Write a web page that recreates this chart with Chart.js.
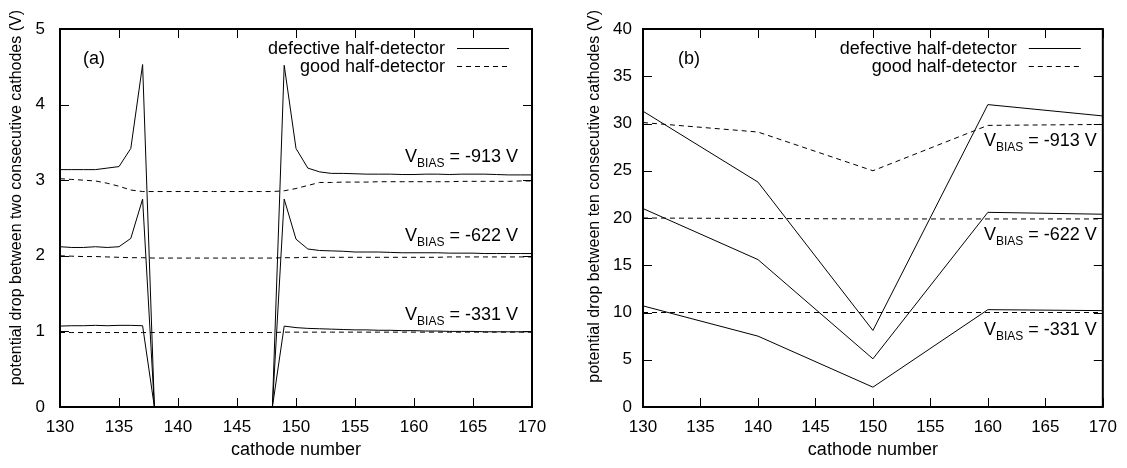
<!DOCTYPE html>
<html><head><meta charset="utf-8">
<script src="https://cdn.jsdelivr.net/npm/chart.js@4/dist/chart.umd.min.js"></script>
<style>
html,body{margin:0;padding:0;background:#fff;}
#wrap{position:relative;width:1127px;height:468px;overflow:hidden;background:#fff;}
canvas{position:absolute;top:0;}
#c1{left:0;}
#c2{left:560px;}
</style></head><body>
<div id="wrap"><canvas id="c1" width="560" height="468"></canvas><canvas id="c2" width="567" height="468"></canvas></div>
<script>
// ---- panel (a): potential drop between two consecutive cathodes ----
const cathodes = [130,131,132,133,134,135,136,137,138,139,140,141,142,143,144,145,146,147,148,149,150,
                  151,152,153,154,155,156,157,158,159,160,161,162,163,164,165,166,167,168,169,170];
const defective913 = [3.14,3.14,3.14,3.14,3.16,3.18,3.42,4.53,0,0,0,0,0,0,0,0,0,0,0,4.52,3.42,
                      3.16,3.11,3.09,3.09,3.085,3.08,3.08,3.08,3.075,3.075,3.08,3.08,3.075,3.08,3.08,3.08,3.075,3.07,3.07,3.07];
const defective622 = [2.12,2.11,2.11,2.12,2.11,2.12,2.23,2.75,0,0,0,0,0,0,0,0,0,0,0,2.75,2.22,
                      2.09,2.07,2.065,2.06,2.05,2.05,2.05,2.045,2.04,2.04,2.04,2.04,2.035,2.035,2.035,2.03,2.03,2.03,2.03,2.03];
const defective331 = [1.07,1.075,1.075,1.08,1.075,1.08,1.08,1.075,0,0,0,0,0,0,0,0,0,0,0,1.07,1.05,
                      1.04,1.035,1.03,1.025,1.02,1.02,1.015,1.015,1.01,1.01,1.005,1.005,1.0,1.0,1.0,0.995,0.995,0.995,0.995,0.995];
const good913 = [3.02,3.01,3.0,2.99,2.96,2.92,2.87,2.85,2.85,2.85,2.85,2.85,2.85,2.85,2.85,2.85,2.85,2.85,2.85,2.86,2.89,
                 2.93,2.97,2.97,2.975,2.975,2.975,2.98,2.98,2.98,2.98,2.98,2.98,2.98,2.985,2.985,2.985,2.985,2.985,2.99,2.99];
const good622 = [2.0,1.995,1.99,1.99,1.985,1.98,1.975,1.975,1.97,1.97,1.97,1.97,1.97,1.97,1.97,1.97,1.97,1.97,1.97,1.975,1.975,
                 1.98,1.98,1.98,1.98,1.98,1.98,1.98,1.98,1.98,1.98,1.98,1.98,1.985,1.985,1.985,1.985,1.985,1.985,1.985,1.985];
const good331 = [0.985,0.985,0.985,0.985,0.985,0.985,0.985,0.985,0.985,0.985,0.985,0.985,0.985,0.985,0.985,0.985,0.985,0.985,0.985,0.99,0.99,
                 0.99,0.99,0.99,0.99,0.99,0.99,0.99,0.99,0.99,0.99,0.99,0.99,0.99,0.99,0.99,0.99,0.99,0.99,0.99,0.99];
const yTicksA = [0,1,2,3,4,5];

// ---- panel (b): potential drop between ten consecutive cathodes ----
const cathodesB = [130,140,150,160,170];
const defective913B = [31.3,23.8,8.1,32.0,30.8];
const defective622B = [21.0,15.6,5.1,20.6,20.4];
const defective331B = [10.7,7.5,2.1,10.3,10.2];
const good913B = [30.1,29.1,25.0,29.8,29.9];
const good622B = [20.0,19.95,19.9,19.9,19.9];
const good331B = [10.0,10.0,10.0,10.0,10.0];
const yTicksB = [0,5,10,15,20,25,30,35,40];
const xTicks = [130,135,140,145,150,155,160,165,170];

const biasLabels = ['-913','-622','-331'];
const legendLabels = ['defective half-detector','good half-detector'];

const FAM = '"Liberation Sans", Arial, Helvetica, sans-serif';
Chart.defaults.font.family = FAM;
Chart.defaults.color = '#000';

function series(xs, ys, dashed){
  return {
    data: xs.map((c,i)=>({x:c, y:ys[i]})),
    borderColor:'#000', backgroundColor:'#000', borderWidth:1,
    borderDash: dashed ? [5,4] : [],
    pointRadius:0, tension:0, fill:false
  };
}

const framePlugin = {
  id:'frame',
  afterDatasetsDraw(chart){
    const {ctx, chartArea:a, scales:{x,y}} = chart;
    ctx.save();
    ctx.strokeStyle='#000'; ctx.lineWidth=1; ctx.setLineDash([]);
    ctx.beginPath();
    x.ticks.forEach(t=>{
      const px = Math.round(x.getPixelForValue(t.value))+0.5;
      ctx.moveTo(px,a.bottom); ctx.lineTo(px,a.bottom-9);
      ctx.moveTo(px,a.top); ctx.lineTo(px,a.top+9);
    });
    y.ticks.forEach(t=>{
      const py = Math.round(y.getPixelForValue(t.value))+0.5;
      ctx.moveTo(a.left,py); ctx.lineTo(a.left+9,py);
      ctx.moveTo(a.right,py); ctx.lineTo(a.right-9,py);
    });
    ctx.stroke();
    ctx.lineWidth=2;
    ctx.strokeRect(a.left,a.top,a.right-a.left,a.bottom-a.top);
    ctx.restore();
  }
};

function drawBias(ctx, rightX, base, val){
  const f1 = '18px '+FAM, f2 = '12px '+FAM;
  const rest = ' = '+val+' V';
  ctx.font=f1; const wV = ctx.measureText('V').width; const wR = ctx.measureText(rest).width;
  ctx.font=f2; const wS = ctx.measureText('BIAS').width;
  const x0 = rightX - (wV+wS+wR);
  ctx.textAlign='left'; ctx.textBaseline='alphabetic'; ctx.fillStyle='#000';
  ctx.font=f1; ctx.fillText('V', x0, base);
  ctx.font=f2; ctx.fillText('BIAS', x0+wV, base+5);
  ctx.font=f1; ctx.fillText(rest, x0+wV+wS, base);
}

function notesPlugin(cfg){
  return {
    id:'notes'+cfg.tag,
    afterDraw(chart){
      const {ctx, chartArea:a, scales:{y}} = chart;
      ctx.save();
      ctx.fillStyle='#000';
      // panel tag
      ctx.font='18px '+FAM; ctx.textAlign='left'; ctx.textBaseline='alphabetic';
      ctx.fillText(cfg.tag, a.left+cfg.tagDx, a.top+35);
      // legend
      legendLabels.forEach((lab,i)=>{
        const ly = a.top + 18.7 + i*18.3;
        ctx.font='18px '+FAM; ctx.textAlign='right'; ctx.textBaseline='alphabetic';
        ctx.fillText(lab, a.right-cfg.legDx, ly+6);
        ctx.beginPath(); ctx.lineWidth=1; ctx.strokeStyle='#000';
        ctx.setLineDash(i===0?[]:[5,4]);
        ctx.moveTo(a.right-cfg.legDx+12, Math.round(ly)+0.5);
        ctx.lineTo(a.right-cfg.legDx+64, Math.round(ly)+0.5);
        ctx.stroke();
      });
      ctx.setLineDash([]);
      // bias labels
      biasLabels.forEach((b,i)=>{
        drawBias(ctx, a.right-cfg.biasDx, y.getPixelForValue(cfg.biasY[i]), b);
      });
      // y title
      ctx.save();
      ctx.translate(cfg.titleX, 10);
      ctx.rotate(-Math.PI/2);
      ctx.font='16px '+FAM; ctx.textAlign='right'; ctx.textBaseline='middle';
      ctx.fillText(cfg.yTitle, 0, 0);
      ctx.restore();
      ctx.restore();
    }
  };
}

function makeChart(id, xs, sets, ymax, ystep, ywidth, padRight, ypad, notes){
  return new Chart(document.getElementById(id), {
    type:'line',
    data:{ datasets: sets },
    options:{
      responsive:false, animation:false, devicePixelRatio:1,
      layout:{ padding:{left:0, right:padRight, top:29, bottom:0} },
      plugins:{ legend:{display:false}, tooltip:{enabled:false} },
      scales:{
        x:{ type:'linear', min:130, max:170,
            afterBuildTicks: s => { s.ticks = xTicks.map(v=>({value:v})); },
            ticks:{ font:{size:17}, color:'#000', padding:10, maxRotation:0 },
            grid:{ display:false, drawTicks:false }, border:{display:false},
            title:{ display:true, text:'cathode number', font:{size:18}, color:'#000', padding:{top:0,bottom:7} },
            afterFit: s => { s.height = 61; } },
        y:{ type:'linear', min:0, max:ymax,
            afterBuildTicks: s => { s.ticks = (ymax===5?yTicksA:yTicksB).map(v=>({value:v})); },
            ticks:{ font:{size:17}, color:'#000', padding:ypad },
            grid:{ display:false, drawTicks:false }, border:{display:false},
            afterFit: s => { s.width = ywidth; } }
      }
    },
    plugins:[framePlugin, notesPlugin(notes)]
  });
}

makeChart('c1', cathodes, [
  series(cathodes, defective913, false),
  series(cathodes, good913, true),
  series(cathodes, defective622, false),
  series(cathodes, good622, true),
  series(cathodes, defective331, false),
  series(cathodes, good331, true)
], 5, 1, 60, 28, 15, {
  tag:'(a)', tagDx:23, legDx:87, biasDx:14, biasY:[3.24,2.2,1.15],
  titleX:17, yTitle:'potential drop between two consecutive cathodes (V)'
});

makeChart('c2', cathodesB, [
  series(cathodesB, defective913B, false),
  series(cathodesB, good913B, true),
  series(cathodesB, defective622B, false),
  series(cathodesB, good622B, true),
  series(cathodesB, defective331B, false),
  series(cathodesB, good331B, true)
], 40, 5, 83, 23, 11, {
  tag:'(b)', tagDx:35, legDx:86, biasDx:6, biasY:[27.65,17.63,7.65],
  titleX:35, yTitle:'potential drop between ten consecutive cathodes (V)'
});
</script>
</body></html>
